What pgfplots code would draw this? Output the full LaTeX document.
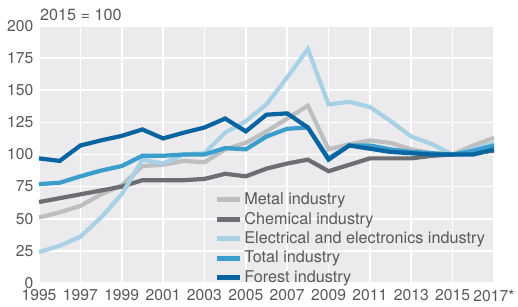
\documentclass[border=0pt]{standalone}
\usepackage{fontspec}
\setmainfont{TeX Gyre Heros}
\usepackage{pgfplots}
\pgfplotsset{compat=1.18}
\definecolor{metal}{HTML}{BCBEC0}
\definecolor{chem}{HTML}{6D6E71}
\definecolor{elec}{HTML}{A9D1E6}
\definecolor{total}{HTML}{3B9DCC}
\definecolor{forest}{HTML}{0A64A0}
\definecolor{bgc}{HTML}{EBEBED}
\definecolor{txt}{HTML}{58595B}
\begin{document}
\fontsize{15.5}{18}\selectfont
\begin{tikzpicture}
\path[use as bounding box] (-39pt,-23pt) rectangle (479pt,283pt);
\begin{axis}[
  at={(0pt,0pt)}, anchor=south west,
  scale only axis, width=455pt, height=257pt,
  xmin=1995, xmax=2017, ymin=0, ymax=200,
  xtick={1995,1997,...,2017},
  xticklabels={1995,1997,1999,2001,2003,2005,2007,2009,2011,2013,2015,2017*},
  ytick={0,25,...,200},
  axis background/.style={fill=bgc},
  axis line style={draw=none},
  major tick length=0pt,
  grid=major, grid style={white, line width=1.6pt},
  tick label style={text=txt, font=\fontsize{15.7}{18}\selectfont},
  xticklabel style={inner sep=1pt, yshift=-5.5pt},
  yticklabel style={inner sep=1pt, xshift=-4.5pt},
  /pgf/number format/assume math mode=true,
  /pgf/number format/1000 sep={},
  clip=false,
  every axis plot/.append style={line width=4.2pt},
  legend style={at={(rel axis cs:0.385,0.36)}, anchor=north west, draw=none, fill=none,
    font=\fontsize{16.2}{18}\selectfont, text=txt, row sep=1.2pt, inner sep=0pt, cells={anchor=west}},
  legend image code/.code={\draw[#1, line width=5pt] (0pt,0pt) -- (23pt,0pt);},
]
\addplot[metal] coordinates {(1995,51)(1996,55)(1997,60)(1998,69)(1999,76)(2000,91)(2001,92)(2002,95)(2003,94)(2004,104)(2005,109)(2006,118)(2007,128)(2008,138)(2009,104)(2010,108)(2011,111)(2012,109)(2013,104)(2014,101)(2015,100)(2016,107)(2017,113)};
\addplot[chem] coordinates {(1995,63)(1996,66)(1997,69)(1998,72)(1999,75)(2000,80)(2001,80)(2002,80)(2003,81)(2004,85)(2005,83)(2006,89)(2007,93)(2008,96)(2009,87)(2010,92)(2011,97)(2012,97)(2013,97)(2014,99)(2015,100)(2016,101)(2017,103)};
\addplot[elec] coordinates {(1995,24)(1996,29)(1997,36)(1998,51)(1999,69)(2000,96)(2001,93)(2002,100)(2003,101)(2004,117)(2005,126)(2006,139)(2007,160)(2008,182)(2009,139)(2010,141)(2011,137)(2012,126)(2013,114)(2014,108)(2015,100)(2016,104)(2017,109)};
\addplot[total] coordinates {(1995,77)(1996,78)(1997,83)(1998,87.5)(1999,91)(2000,99)(2001,99)(2002,100)(2003,100)(2004,105)(2005,104)(2006,114)(2007,120)(2008,121)(2009,97)(2010,107)(2011,107)(2012,104)(2013,102)(2014,101)(2015,100)(2016,103)(2017,107)};
\addplot[forest] coordinates {(1995,97)(1996,95)(1997,107)(1998,111)(1999,114.5)(2000,119.5)(2001,112.5)(2002,117)(2003,121)(2004,128)(2005,118)(2006,131)(2007,132)(2008,121)(2009,96)(2010,107)(2011,104.5)(2012,102)(2013,101)(2014,100)(2015,100)(2016,100)(2017,104)};
\legend{Metal industry, Chemical industry, Electrical and electronics industry, Total industry, Forest industry}
\node[anchor=base west, text=txt, inner sep=0pt, font=\fontsize{16.2}{18}\selectfont] at ([xshift=1pt,yshift=6pt]rel axis cs:0,1) {2015 = 100};
\end{axis}
\end{tikzpicture}
\end{document}
